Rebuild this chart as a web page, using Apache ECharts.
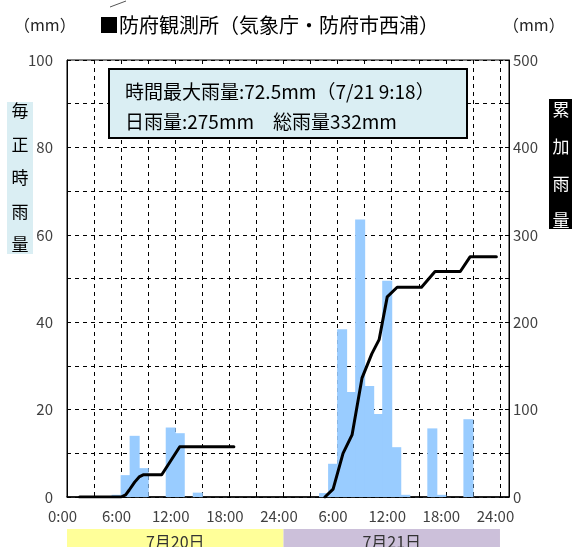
<!DOCTYPE html>
<html><head><meta charset="utf-8">
<script src="https://cdn.jsdelivr.net/npm/echarts@6/dist/echarts.min.js"></script>
<style>html,body{margin:0;padding:0;background:#fff}#c{width:572px;height:547px}</style>
</head><body><div id="c"></div>
<script>
// Hourly rainfall (mm), index = hour from 7/20 0:00 (bar covers [h, h+1])
const hourlyRain = [
  0,0,0,0,0,0.5,5,14,6.6,0,0,15.9,14.6,0,1,0,0,0,0,0,0,0,0,0,
  0,0,0,0,0.9,7.6,38.4,24,63.5,25.4,19,49.5,11.4,0.5,0,0,15.7,0.5,0,0,17.8,0,0,0
];
// Daily cumulative rainfall line (hour, mm)
const cumDay1Hours = [1.4,6.0,6.5,6.9,7.5,8.0,8.5,10.5,12.5,18.5];
const cumDay1Vals  = [0,0,2.5,8,17,23,25.5,25.5,57.5,57.5];
const cumDay2Hours = [28.6,29.5,30.6,31.6,32.7,33.8,34.6,35.5,36.6,39.3,40.8,43.6,44.7,47.6];
const cumDay2Vals  = [0,9,50,71,136,164,180,229,240,240,258,258,275,275];
const xTickLabels = ['0:00','6:00','12:00','18:00','24:00','6:00','12:00','18:00','24:00'];
const dayLabels = ['7月20日','7月21日'];
const titleText = '■防府観測所（気象庁・防府市西浦）';
const noteLine1 = '時間最大雨量:72.5mm（7/21 9:18）';
const noteLine2 = '日雨量:275mm　総雨量332mm';
const leftAxisName = ['毎','正','時','雨','量'];
const rightAxisName = ['累','加','雨','量'];

const FONT = '"Noto Sans CJK JP", "Noto Sans", sans-serif';
const barData = hourlyRain.map((v,i)=>[i+0.5, v]);
const line1 = cumDay1Hours.map((h,i)=>[h, cumDay1Vals[i]]);
const line2 = cumDay2Hours.map((h,i)=>[h, cumDay2Vals[i]]);

const chart = echarts.init(document.getElementById('c'), null, {renderer:'canvas'});
const dashed = {show:true, lineStyle:{color:'#000', type:[4,4], width:1}};
chart.setOption({
  animation:false,
  textStyle:{fontFamily:FONT},
  title:{text:titleText, left:94, top:10, textStyle:{fontFamily:FONT, fontSize:20, fontWeight:'normal', color:'#000'}},
  grid:{left:67, right:63, top:60, bottom:50, show:true, borderColor:'#000', borderWidth:1},
  xAxis:{type:'value', min:0, max:49, interval:3,
    axisLine:{show:true, onZero:false, lineStyle:{color:'#000', width:1.5}},
    axisTick:{show:true, inside:true, length:4, lineStyle:{color:'#000'}},
    splitLine:dashed,
    axisLabel:{color:'#404040', fontSize:15, fontFamily:FONT, margin:12, padding:[0,9,0,0],
      showMaxLabel:false,
      formatter:v=> (v%6===0 && v<=48) ? xTickLabels[v/6] : ''}
  },
  yAxis:[
    {type:'value', min:0, max:100, interval:10, position:'left',
      axisLine:{show:true, lineStyle:{color:'#000'}},
      axisTick:{show:true, inside:true, length:4, lineStyle:{color:'#000'}},
      splitLine:dashed,
      axisLabel:{color:'#404040', fontSize:15, fontFamily:FONT, margin:14,
        formatter:v=> v%20===0 ? String(v) : ''}},
    {type:'value', min:0, max:500, interval:50, position:'right',
      axisLine:{show:true, lineStyle:{color:'#000'}},
      axisTick:{show:true, inside:true, length:4, lineStyle:{color:'#000'}},
      splitLine:{show:false},
      axisLabel:{color:'#404040', fontSize:15, fontFamily:FONT, margin:4, padding:[0,0,10,0],
        formatter:v=> v%100===0 ? String(v) : ''}}
  ],
  series:[
    {type:'bar', data:barData, yAxisIndex:0, barWidth:'100%', barGap:'0%',
      itemStyle:{color:'#99ccff'}, silent:true},
    {type:'line', data:line1, yAxisIndex:1, showSymbol:false, z:5,
      lineStyle:{color:'#000', width:3, cap:'round', join:'round'}},
    {type:'line', data:line2, yAxisIndex:1, showSymbol:false, z:5,
      lineStyle:{color:'#000', width:3, cap:'round', join:'round'}}
  ]
});

const px = h => chart.convertToPixel({xAxisIndex:0}, h);
const x0 = px(0), x24 = px(24), x48 = px(48);
const hourPx = px(1) - px(0);
const vtext = (chars) => chars.join('\n');
chart.setOption({
  series:[{barWidth: hourPx + 1}],
  graphic:[
    {type:'line', shape:{x1:110,y1:7,x2:126,y2:1}, style:{stroke:'#555', lineWidth:1}},
    {type:'text', left:14, top:17, style:{text:'（mm）', font:'16px '+FONT, fill:'#222'}},
    {type:'text', left:503, top:17, style:{text:'（mm）', font:'16px '+FONT, fill:'#222'}},
    // annotation box
    {type:'rect', shape:{x:109, y:69, width:358, height:69}, style:{fill:'#daeef3', stroke:'#000', lineWidth:2}, z:10},
    {type:'text', x:125, y:92, style:{text:noteLine1, font:'19px '+FONT, fill:'#000', verticalAlign:'middle'}, z:11},
    {type:'text', x:125, y:122, style:{text:noteLine2, font:'19px '+FONT, fill:'#000', verticalAlign:'middle'}, z:11},
    // left axis name
    {type:'rect', shape:{x:7, y:102, width:26, height:152}, style:{fill:'#daeef3'}},
    {type:'text', x:20, y:178, style:{text:vtext(leftAxisName), font:'17px '+FONT, lineHeight:33.5, fill:'#000', align:'center', verticalAlign:'middle'}},
    // right axis name
    {type:'rect', shape:{x:549, y:99, width:23, height:130}, style:{fill:'#000'}},
    {type:'text', x:561, y:165, style:{text:vtext(rightAxisName), font:'17px '+FONT, lineHeight:37, fill:'#fff', align:'center', verticalAlign:'middle'}},
    // date bands
    {type:'rect', shape:{x:x0, y:529, width:x24-x0, height:18}, style:{fill:'#ffff99'}},
    {type:'rect', shape:{x:x24, y:529, width:x48-x24, height:18}, style:{fill:'#ccc0da'}},
    {type:'text', x:(x0+x24)/2, y:542, style:{text:dayLabels[0], font:'16px '+FONT, fill:'#333', align:'center', verticalAlign:'middle'}},
    {type:'text', x:(x24+x48)/2, y:542, style:{text:dayLabels[1], font:'16px '+FONT, fill:'#333', align:'center', verticalAlign:'middle'}}
  ]
});
</script></body></html>
